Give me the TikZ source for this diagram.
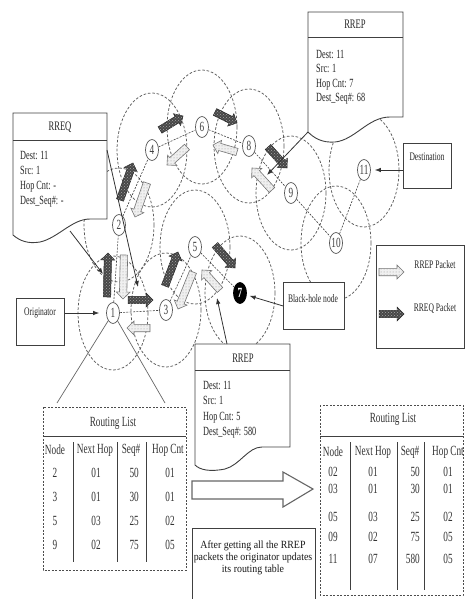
\documentclass[tikz,border=0pt]{standalone}
\usepackage{fontspec}
\setmainfont{Liberation Serif}[FakeStretch=0.66]
\newfontfamily\widefont{Liberation Serif}[FakeStretch=0.9]
\usetikzlibrary{calc,arrows.meta,shapes.geometric,patterns}

\newcommand{\pkt}[3]{%
  \coordinate (pkH) at ($(#3)!7pt!(#2)$);%
  \filldraw[#1] ($(#2)!3.7pt!90:(#3)$) -- ($(pkH)!3.7pt!90:(#3)$) -- ($(pkH)!6.9pt!90:(#3)$) -- (#3) -- ($(pkH)!6.9pt!-90:(#3)$) -- ($(pkH)!3.7pt!-90:(#3)$) -- ($(#2)!3.7pt!-90:(#3)$) -- cycle;}

\begin{document}
\begin{tikzpicture}[x=1pt,y=-1pt,
  rng/.style={draw=black!65, dash pattern=on 2.6pt off 1.8pt, line width=0.75pt},
  link/.style={draw=black!75, dash pattern=on 2pt off 1.3pt, line width=0.6pt},
  nd/.style={ellipse, draw=black!65, line width=0.7pt, fill=white, minimum width=13pt, minimum height=21pt, inner sep=0pt, font=\fontsize{14}{14}\selectfont, text=black!75},
  box/.style={draw=black!75, line width=0.9pt, fill=white},
  sep/.style={draw=black!75, line width=0.9pt},
  ptr/.style={draw=black!80, line width=0.8pt, -{Latex[length=6pt,width=4.5pt]}},
  thinl/.style={draw=black!60, line width=0.7pt},
  lbl/.style={font=\fontsize{11.5}{12}\selectfont, text=black!85, inner sep=0pt},
  ttl/.style={font=\fontsize{13}{13}\selectfont, text=black!85, inner sep=0pt},
  body/.style={text=black!85, inner sep=0pt, align=left, anchor=north west},
  rq/.style={fill=black!72, draw=black!85, line width=0.5pt, postaction={pattern=crosshatch dots, pattern color=black!35}},
  rp/.style={fill=black!6, draw=black!55, line width=0.6pt, postaction={pattern=dots, pattern color=black!40}},
  tbl/.style={font=\fontsize{14}{14}\selectfont, text=black!80, inner sep=0pt},
  tblbox/.style={draw=black!70, dash pattern=on 2pt off 1.5pt, line width=0.8pt},
  ]
\useasboundingbox (0,0) rectangle (465,599);

% node centres
\coordinate (c1) at (113,313);
\coordinate (c2) at (119,225);
\coordinate (c3) at (166,310);
\coordinate (c4) at (152,150);
\coordinate (c5) at (195,247);
\coordinate (c6) at (202,127);
\coordinate (c7) at (240,293);
\coordinate (c8) at (249,146);
\coordinate (c9) at (291,193);
\coordinate (c10) at (336,243);
\coordinate (c11) at (364,170);

% transmission ranges
\foreach \i in {1,...,11} \draw[rng] (c\i) ellipse [x radius=35pt, y radius=57pt];

% nodes
\foreach \i in {1,2,3,4,5,6,8,9,10,11} \node[nd] (n\i) at (c\i) {\i};
\node[nd, fill=black, draw=black, text=white, font=\fontsize{14}{14}\bfseries] (n7) at (c7) {7};

% links
\foreach \a/\b in {1/2,2/4,4/6,6/8,8/9,9/10,10/11,1/3,3/5,5/7}
  \draw[link] (n\a) -- (n\b);

% packets
\foreach \n/\ax/\ay/\bx/\by in {1/107/297/108/253, 2/128/300/153/300, 3/120/200/133/163, 4/160/130/183/116, 5/215/112/237/123, 6/268/147/287/168, 7/165/286/178/252, 8/215/245/235/268}{
  \coordinate (qa\n) at (\ax,\ay);
  \coordinate (qb\n) at (\bx,\by);
  \pkt{rq}{qa\n}{qb\n}
}
\foreach \n/\ax/\ay/\bx/\by in {1/124/255/123/299, 2/150/328/127/328, 3/147/183/135/217, 4/187/147/167/165, 5/237/152/213/145, 6/272/190/252/168, 7/193/272/178/309, 8/220/290/202/270}{
  \coordinate (pa\n) at (\ax,\ay);
  \coordinate (pb\n) at (\bx,\by);
  \pkt{rp}{pa\n}{pb\n}
}

% RREQ document
\draw[box] (13,235) -- (13,113) -- (107,113) -- (107,219) -- (90,219) .. controls (72,219) and (58,238) .. (40,242) .. controls (28,244) and (20,241) .. (13,235) -- cycle;
\draw[sep] (13,140) -- (107,140);
\node[ttl] (rreqt) at (60,127) {RREQ};
\node[body, font=\fontsize{12.5}{15}\selectfont] (rreqb) at (20,151) {Dest: 11\\Src: 1\\Hop Cnt: -\\Dest\_Seq\#: -};
\coordinate (rqs1) at (70,231);
\coordinate (rqe1) at (103,274);
\coordinate (rqs2) at (107,150);
\coordinate (rqe2) at (138,287);
\draw[ptr] (rqs1) -- (rqe1);
\draw[ptr] (rqs2) -- (rqe2);

% RREP top document
\draw[box] (308,132) -- (308,12) -- (403,12) -- (403,117) -- (390,117) .. controls (368,117) and (355,140) .. (335,142) .. controls (322,143) and (314,138) .. (308,132) -- cycle;
\draw[sep] (308,37) -- (403,37);
\node[ttl] (rrept) at (355,24) {RREP};
\node[body, font=\fontsize{12.5}{14.3}\selectfont] (rrepb) at (316,50) {Dest: 11\\Src: 1\\Hop Cnt: 7\\Dest\_Seq\#: 68};
\coordinate (rps1) at (308,132);
\coordinate (rpe1) at (267,175);
\draw[ptr] (rps1) -- (rpe1);

% RREP bottom document
\draw[box] (195,465) -- (195,344) -- (290,344) -- (290,447) -- (262,447) .. controls (248,447) and (240,465) .. (225,469) .. controls (210,472) and (200,470) .. (195,465) -- cycle;
\draw[sep] (195,370) -- (290,370);
\node[ttl] (rrep2t) at (243,358) {RREP};
\node[body, font=\fontsize{12.5}{15.5}\selectfont] (rrep2b) at (203,381) {Dest: 11\\Src: 1\\Hop Cnt: 5\\Dest\_Seq\#: 580};
\coordinate (rps2) at (227,344);
\coordinate (rpe2) at (217,298);
\draw[ptr] (rps2) -- (rpe2);

% Originator
\node[box, minimum width=48pt, minimum height=47pt, anchor=north west, inner sep=0pt] (orig) at (16,298) {};
\node[lbl] (origt) at (40,313) {Originator};
\draw[ptr, shorten >=7pt] (orig.east |- n1) -- (n1);

% Destination
\node[box, minimum width=48pt, minimum height=45pt, anchor=north west, inner sep=0pt] (dest) at (403,143) {};
\node[lbl] (destt) at (427,157) {Destination};
\draw[ptr, shorten >=4pt] (dest.west |- n11) -- (n11);

% Black-hole
\node[box, minimum width=61pt, minimum height=47pt, anchor=north west, inner sep=0pt] (bh) at (283,282) {};
\node[lbl] (bht) at (313,299) {Black-hole node};
\draw[ptr, shorten >=3pt] (bh.west) -- (n7);

% Legend
\node[box, minimum width=88pt, minimum height=103pt, anchor=north west, inner sep=0pt] (leg) at (376,245) {};
\node[lbl] (legp) at (435,265) {RREP Packet};
\node[lbl] (legq) at (435,308) {RREQ Packet};
\coordinate (lga) at (379,272);
\coordinate (lgb) at (404,272);
\coordinate (lgc) at (379,314);
\coordinate (lgd) at (404,314);
\pkt{rp}{lga}{lgb}
\pkt{rq}{lgc}{lgd}

% lines from originator to routing list
\coordinate (rlA) at (57,403);
\coordinate (rlB) at (165,403);
\draw[thinl] (n1) -- (rlA);
\draw[thinl] (n1) -- (rlB);

% left routing list
\draw[tblbox] (43,407) rectangle (186,570);
\draw[sep, line width=1pt] (43,436) -- (186,436);
\node[tbl] (lttl) at (113,423) {Routing List};
\foreach \x in {73,117,146} \draw[sep] (\x,442) -- (\x,562);
\node[tbl] (lh1) at (55,450) {Node};
\node[tbl] (lh2) at (95,450) {Next Hop};
\node[tbl] (lh3) at (131,450) {Seq\#};
\node[tbl] (lh4) at (168,450) {Hop Cnt};
\foreach \nd/\nh/\sq/\hc [count=\r] in {2/01/50/01, 3/01/30/01, 5/03/25/02, 9/02/75/05}{
  \node[tbl] (la\r) at (55,{449+24*\r}) {\nd};
  \node[tbl] (lb\r) at (96,{449+24*\r}) {\nh};
  \node[tbl, anchor=east] (lc\r) at (139,{449+24*\r}) {\sq};
  \node[tbl] (ld\r) at (170,{449+24*\r}) {\hc};
}

% big arrow
\draw[draw=black!60, line width=1.1pt, fill=white] (192,481) -- (283,481) -- (283,472) -- (313,489) -- (283,507) -- (283,499) -- (192,499) -- cycle;

% note box
\draw[box] (192,601) -- (192,528) -- (315,528) -- (315,601);
\node[font=\widefont\fontsize{11}{12}\selectfont, text=black!90, align=center, inner sep=0pt] (note) at (253,558) {After getting all the RREP\\packets the originator updates\\its routing table};

% right routing list
\draw[tblbox] (320,405) rectangle (463,595);
\draw[sep, line width=1pt] (320,436) -- (463,436);
\node[tbl] (rttl) at (393,419) {Routing List};
\foreach \x in {350,397,424} \draw[sep] (\x,442) -- (\x,590);
\node[tbl] (rh1) at (333,452) {Node};
\node[tbl] (rh2) at (373,452) {Next Hop};
\node[tbl] (rh3) at (410,452) {Seq\#};
\node[tbl] (rh4) at (448,452) {Hop Cnt};
\foreach \yy/\nd/\nh/\sq/\hc [count=\r] in {472/02/01/50/01, 489/03/01/30/01, 517/05/03/25/02, 537/09/02/75/05, 559/11/07/580/05}{
  \node[tbl] (ra\r) at (333,\yy) {\nd};
  \node[tbl] (rb\r) at (373,\yy) {\nh};
  \node[tbl, anchor=east] (rc\r) at (420,\yy) {\sq};
  \node[tbl] (rd\r) at (448,\yy) {\hc};
}
\end{tikzpicture}
\end{document}
